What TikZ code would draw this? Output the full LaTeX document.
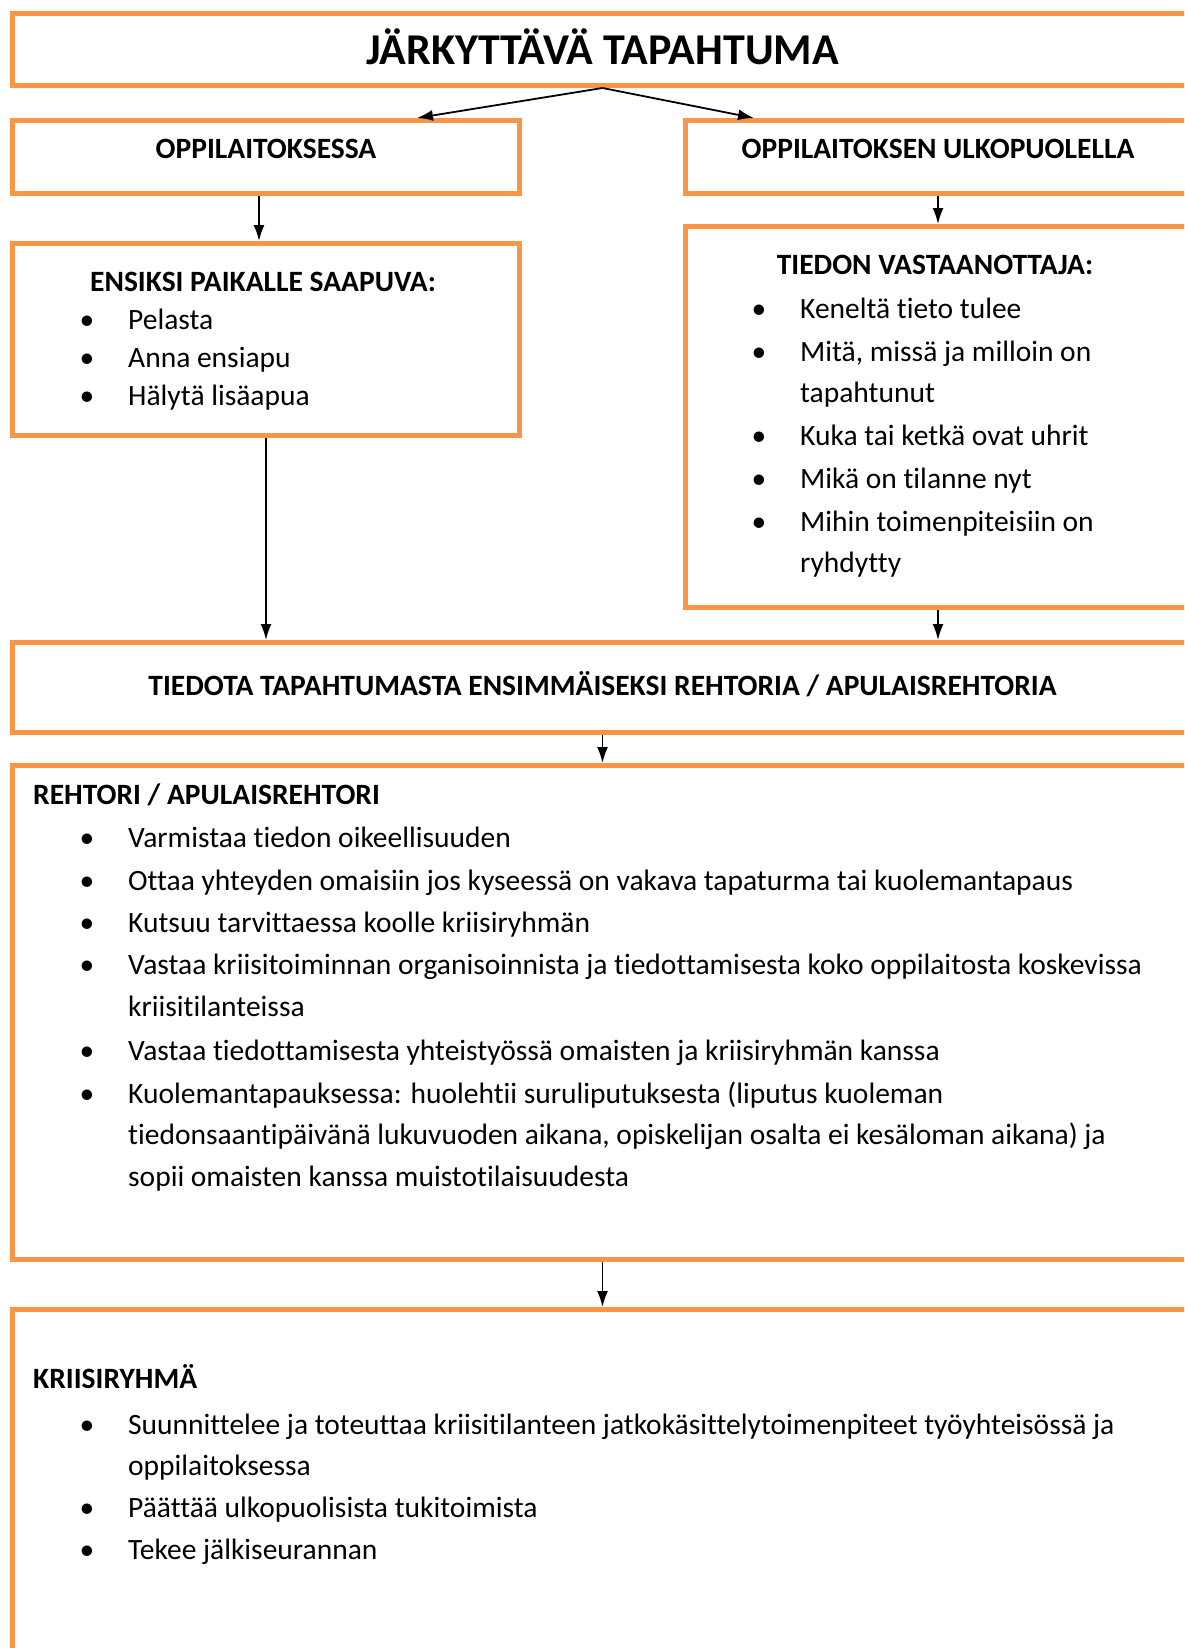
\documentclass[tikz,border=0pt]{standalone}
\usepackage{fontspec}
\setmainfont{Carlito}[Ligatures={NoCommon,NoContextual}]
\usepackage{xcolor}
\usepackage{tikz}
\usetikzlibrary{
  arrows.meta
}
\definecolor{boxorange}{HTML}{F79646}

\begin{document}
\begin{tikzpicture}[x=1pt, y=-1pt,
    frame/.style={draw=boxorange, line width=5pt, rectangle, anchor=north west, inner sep=0pt},
    head/.style={inner sep=0pt, font=\fontsize{29.5}{35}\selectfont\bfseries},
    txt/.style={anchor=mid west, inner sep=0pt, font=\fontsize{29.5}{35}\selectfont},
    bul/.style={anchor=mid, inner sep=0pt, font=\fontsize{29.5}{35}\selectfont},
    link/.style={-{Latex[length=16pt,width=11pt]}, line width=1.8pt}]
\useasboundingbox (0,0) rectangle (1184,1648);
\clip (0,0) rectangle (1184,1648);

% boxes
\node [frame, minimum width=1180pt, minimum height=72pt, text depth=6pt, font=\fontsize{44}{52}\selectfont\bfseries] (title) at (10,11) {JÄRKYTTÄVÄ TAPAHTUMA};
\node [frame, head, minimum width=507pt, minimum height=73pt, text depth=17pt] (opp) at (10,118) {OPPILAITOKSESSA};
\node [frame, head, minimum width=505pt, minimum height=73pt, text depth=17pt] (ulko) at (683,118) {OPPILAITOKSEN ULKOPUOLELLA};
\node [frame, minimum width=507pt, minimum height=192pt] (ensiksi) at (10,241) {};
\node [frame, minimum width=505pt, minimum height=381pt] (tiedon) at (683,224) {};
\node [frame, head, minimum width=1180pt, minimum height=90pt, text depth=9pt] (tiedota) at (10,640) {TIEDOTA TAPAHTUMASTA ENSIMMÄISEKSI REHTORIA / APULAISREHTORIA};
\node [frame, minimum width=1180pt, minimum height=494pt] (rehtori) at (10,763) {};
\node [frame, minimum width=1180pt, minimum height=420pt] (kriisi) at (10,1307) {};

% ensiksi paikalle
\node [head, anchor=mid] (ensh) at (263,289) {ENSIKSI PAIKALLE SAAPUVA:};
\node [bul] (eb1) at (87,327) {•};
\node [txt] (et1) at (128,327) {Pelasta};
\node [bul] (eb2) at (87,365) {•};
\node [txt] (et2) at (128,365) {Anna ensiapu};
\node [bul] (eb3) at (87,403) {•};
\node [txt] (et3) at (128,403) {Hälytä lisäapua};

% tiedon vastaanottaja
\node [head, anchor=mid] (tieh) at (935,272) {TIEDON VASTAANOTTAJA:};
\node [bul] (tb1) at (759,316) {•};
\node [txt] (tt1) at (800,316) {Keneltä tieto tulee};
\node [bul] (tb2) at (759,359) {•};
\node [txt] (tt2) at (800,359) {Mitä, missä ja milloin on};
\node [txt] (tt2b) at (800,400) {tapahtunut};
\node [bul] (tb3) at (759,443) {•};
\node [txt] (tt3) at (800,443) {Kuka tai ketkä ovat uhrit};
\node [bul] (tb4) at (759,486) {•};
\node [txt] (tt4) at (800,486) {Mikä on tilanne nyt};
\node [bul] (tb5) at (759,529) {•};
\node [txt] (tt5) at (800,529) {Mihin toimenpiteisiin on};
\node [txt] (tt5b) at (800,570) {ryhdytty};

% rehtori
\node [head, anchor=mid west] (reh) at (33,802) {REHTORI / APULAISREHTORI};
\node [bul] (rb1) at (87,845) {•};
\node [txt] (rt1) at (128,845) {Varmistaa tiedon oikeellisuuden};
\node [bul] (rb2) at (87,888) {•};
\node [txt] (rt2) at (128,888) {Ottaa yhteyden omaisiin jos kyseessä on vakava tapaturma tai kuolemantapaus};
\node [bul] (rb3) at (87,930) {•};
\node [txt] (rt3) at (128,930) {Kutsuu tarvittaessa koolle kriisiryhmän};
\node [bul] (rb4) at (87,972) {•};
\node [txt] (rt4) at (128,972) {Vastaa kriisitoiminnan organisoinnista ja tiedottamisesta koko oppilaitosta koskevissa};
\node [txt] (rt4b) at (128,1014) {kriisitilanteissa};
\node [bul] (rb5) at (87,1058) {•};
\node [txt] (rt5) at (128,1058) {Vastaa tiedottamisesta yhteistyössä omaisten ja kriisiryhmän kanssa};
\node [bul] (rb6) at (87,1101) {•};
\node [txt] (rt6) at (128,1101) {Kuolemantapauksessa: huolehtii suruliputuksesta (liputus kuoleman};
\node [txt] (rt6b) at (128,1142) {tiedonsaantipäivänä lukuvuoden aikana, opiskelijan osalta ei kesäloman aikana) ja};
\node [txt] (rt6c) at (128,1184) {sopii omaisten kanssa muistotilaisuudesta};

% kriisiryhma
\node [head, anchor=mid west] (krh) at (33,1386) {KRIISIRYHMÄ};
\node [bul] (kb1) at (87,1432) {•};
\node [txt] (kt1) at (128,1432) {Suunnittelee ja toteuttaa kriisitilanteen jatkokäsittelytoimenpiteet työyhteisössä ja};
\node [txt] (kt1b) at (128,1473) {oppilaitoksessa};
\node [bul] (kb2) at (87,1515) {•};
\node [txt] (kt2) at (128,1515) {Päättää ulkopuolisista tukitoimista};
\node [bul] (kb3) at (87,1557) {•};
\node [txt] (kt3) at (128,1557) {Tekee jälkiseurannan};

% arrows
\draw [link] (title.south) -- ([xshift=151pt]opp.north);
\draw [link] (title.south) -- ([xshift=-184pt]ulko.north);
\draw [link] ([xshift=-7pt]opp.south) -- ([xshift=-7pt]ensiksi.north);
\draw [link] (ulko.south) -- (tiedon.north);
\draw [link] (ensiksi.south) -- (ensiksi.south |- tiedota.north);
\draw [link] (tiedon.south) -- (tiedon.south |- tiedota.north);
\draw [link] (tiedota.south) -- (rehtori.north);
\draw [link] (rehtori.south) -- (kriisi.north);
\end{tikzpicture}
\end{document}
